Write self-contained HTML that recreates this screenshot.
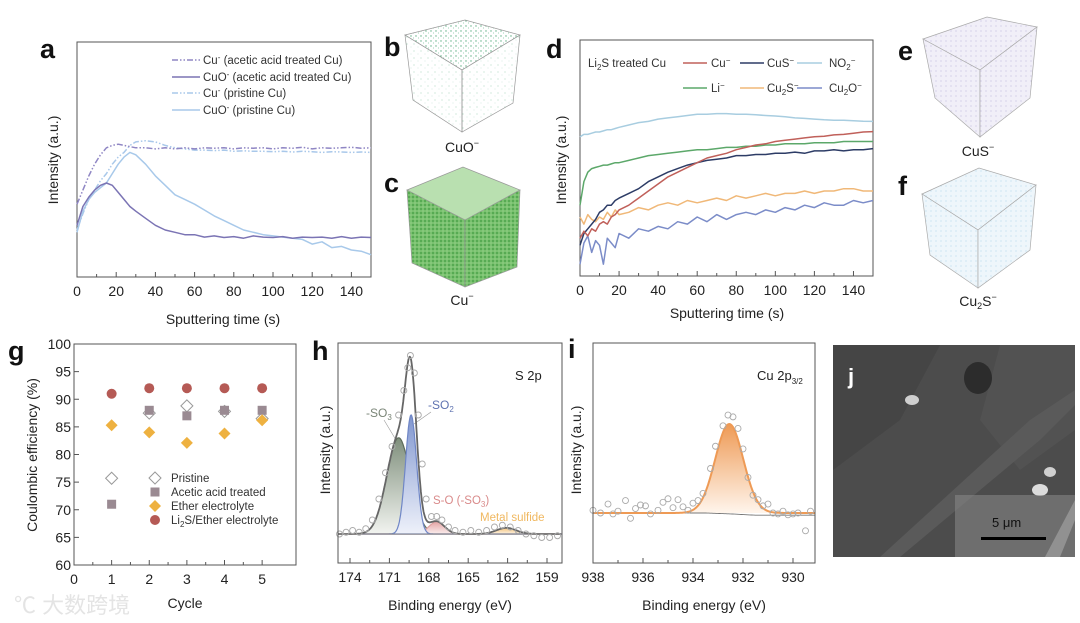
<!DOCTYPE html>
<html><head><meta charset="utf-8">
<style>
html,body{margin:0;padding:0;background:#fff;}
svg{display:block;font-family:"Liberation Sans","Noto Sans CJK SC",sans-serif;}
.tk{font-size:14px;fill:#222;}
.al{font-size:14px;fill:#222;}
.lg{font-size:11.5px;fill:#333;}
.pl{font-size:27px;font-weight:bold;fill:#111;}
</style></head>
<body>
<svg id="fig" width="1080" height="623" viewBox="0 0 1080 623">
<defs>
<pattern id="dotG" width="5" height="5" patternUnits="userSpaceOnUse"><circle cx="1" cy="1" r="0.7" fill="#5fae84"/><circle cx="3.5" cy="3" r="0.5" fill="#7cc49c"/></pattern>
<pattern id="dotGs" width="7" height="7" patternUnits="userSpaceOnUse"><circle cx="1" cy="2" r="0.5" fill="#8ccbaa"/><circle cx="5" cy="5" r="0.4" fill="#a3d6ba"/></pattern>
<pattern id="dotC" width="4" height="4" patternUnits="userSpaceOnUse"><rect width="4" height="4" fill="#79c16f"/><circle cx="1" cy="1" r="0.9" fill="#3f9a3f"/><circle cx="3" cy="3" r="0.6" fill="#a8dc98"/></pattern>
<pattern id="dotP" width="5" height="5" patternUnits="userSpaceOnUse"><rect width="5" height="5" fill="#f1eff8"/><circle cx="1" cy="1" r="0.6" fill="#c6c0e2"/></pattern>
<pattern id="dotB" width="5" height="5" patternUnits="userSpaceOnUse"><rect width="5" height="5" fill="#eef6fb"/><circle cx="1" cy="1" r="0.6" fill="#b9dcef"/></pattern>
<linearGradient id="gSO3" x1="0" y1="0" x2="0" y2="1"><stop offset="0" stop-color="#7f8f7c"/><stop offset="1" stop-color="#f2f4f0"/></linearGradient>
<linearGradient id="gSO2" x1="0" y1="0" x2="0" y2="1"><stop offset="0" stop-color="#8096cf"/><stop offset="1" stop-color="#eef1fa"/></linearGradient>
<linearGradient id="gSO" x1="0" y1="0" x2="0" y2="1"><stop offset="0" stop-color="#e4a5a5"/><stop offset="1" stop-color="#fbeeee"/></linearGradient>
<linearGradient id="gMS" x1="0" y1="0" x2="0" y2="1"><stop offset="0" stop-color="#f3c27a"/><stop offset="1" stop-color="#fdf3e4"/></linearGradient>
<linearGradient id="gCu" x1="0" y1="0" x2="0" y2="1"><stop offset="0" stop-color="#ee9a55"/><stop offset="1" stop-color="#fff5ec"/></linearGradient>
</defs>

<!-- panel letters -->
<text class="pl" x="40" y="58">a</text>
<text class="pl" x="384" y="56">b</text>
<text class="pl" x="384" y="192">c</text>
<text class="pl" x="546" y="58">d</text>
<text class="pl" x="898" y="60">e</text>
<text class="pl" x="898" y="195">f</text>
<text class="pl" x="8" y="360">g</text>
<text class="pl" x="312" y="360">h</text>
<text class="pl" x="568" y="358">i</text>

<!-- cubes -->
<g>
<polygon points="405,35 465,20 520,35 462,70" fill="url(#dotG)" stroke="#999" stroke-width="0.7"/>
<polygon points="405,35 462,70 462,132 413,100" fill="url(#dotGs)" stroke="#999" stroke-width="0.7"/>
<polygon points="462,70 520,35 513,103 462,132" fill="url(#dotGs)" stroke="#999" stroke-width="0.7"/>
</g>
<text x="462" y="152" text-anchor="middle" class="tk">CuO<tspan font-size="9" dy="-6">−</tspan></text>
<g>
<polygon points="407,190 463,167 520,190 465,220" fill="#b9e0b0" stroke="#999" stroke-width="0.7"/>
<polygon points="407,190 465,220 465,287 412,263" fill="url(#dotC)" stroke="#999" stroke-width="0.7"/>
<polygon points="465,220 520,190 517,267 465,287" fill="url(#dotC)" stroke="#999" stroke-width="0.7"/>
</g>
<text x="462" y="305" text-anchor="middle" class="tk">Cu<tspan font-size="9" dy="-6">−</tspan></text>
<g>
<polygon points="923,39 987,17 1037,27 980,70" fill="url(#dotP)" stroke="#aaa" stroke-width="0.7"/>
<polygon points="923,39 980,70 980,137 935,98" fill="url(#dotP)" stroke="#aaa" stroke-width="0.7"/>
<polygon points="980,70 1037,27 1030,98 980,137" fill="url(#dotP)" stroke="#aaa" stroke-width="0.7"/>
</g>
<text x="978" y="156" text-anchor="middle" class="tk">CuS<tspan font-size="9" dy="-6">−</tspan></text>
<g>
<polygon points="922,194 979,168 1036,185 978,230" fill="url(#dotB)" stroke="#aaa" stroke-width="0.7"/>
<polygon points="922,194 978,230 978,288 930,255" fill="url(#dotB)" stroke="#aaa" stroke-width="0.7"/>
<polygon points="978,230 1036,185 1030,250 978,288" fill="url(#dotB)" stroke="#aaa" stroke-width="0.7"/>
</g>
<text x="978" y="306" text-anchor="middle" class="tk">Cu<tspan font-size="9" dy="3">2</tspan><tspan dy="-3">S</tspan><tspan font-size="9" dy="-6">−</tspan></text>

<!-- axis titles -->
<text class="al" x="223" y="324" text-anchor="middle">Sputtering time (s)</text>
<text class="al" transform="translate(58,160) rotate(-90)" text-anchor="middle">Intensity (a.u.)</text>
<text class="al" x="727" y="318" text-anchor="middle">Sputtering time (s)</text>
<text class="al" transform="translate(566,160) rotate(-90)" text-anchor="middle">Intensity (a.u.)</text>
<text class="al" transform="translate(37,455) rotate(-90)" text-anchor="middle">Coulombic efficiency (%)</text>
<text class="al" x="185" y="608" text-anchor="middle">Cycle</text>
<text class="al" x="450" y="610" text-anchor="middle">Binding energy (eV)</text>
<text class="al" transform="translate(330,450) rotate(-90)" text-anchor="middle">Intensity (a.u.)</text>
<text class="al" x="704" y="610" text-anchor="middle">Binding energy (eV)</text>
<text class="al" transform="translate(581,450) rotate(-90)" text-anchor="middle">Intensity (a.u.)</text>

<!-- legend a -->
<g>
<line x1="172" y1="60" x2="200" y2="60" stroke="#8f86c4" stroke-width="1.5" stroke-dasharray="6,2,1.5,2,1.5,2"/>
<text class="lg" x="203" y="64">Cu<tspan font-size="8" dy="-4">-</tspan><tspan dy="4"> (acetic acid treated Cu)</tspan></text>
<line x1="172" y1="77" x2="200" y2="77" stroke="#7b74b4" stroke-width="1.5"/>
<text class="lg" x="203" y="81">CuO<tspan font-size="8" dy="-4">-</tspan><tspan dy="4"> (acetic acid treated Cu)</tspan></text>
<line x1="172" y1="93" x2="200" y2="93" stroke="#a9c8ea" stroke-width="1.5" stroke-dasharray="6,2,1.5,2,1.5,2"/>
<text class="lg" x="203" y="97">Cu<tspan font-size="8" dy="-4">-</tspan><tspan dy="4"> (pristine Cu)</tspan></text>
<line x1="172" y1="110" x2="200" y2="110" stroke="#a8c9ea" stroke-width="1.5"/>
<text class="lg" x="203" y="114">CuO<tspan font-size="8" dy="-4">-</tspan><tspan dy="4"> (pristine Cu)</tspan></text>
</g>
<!-- legend d -->
<g>
<text class="lg" x="588" y="67">Li<tspan font-size="8" dy="3">2</tspan><tspan dy="-3">S treated Cu</tspan></text>
<line x1="683" y1="63" x2="707" y2="63" stroke="#c0605a" stroke-width="1.5"/><text class="lg" x="711" y="67">Cu<tspan font-size="8" dy="-4">−</tspan></text>
<line x1="740" y1="63" x2="764" y2="63" stroke="#2d3c66" stroke-width="1.5"/><text class="lg" x="767" y="67">CuS<tspan font-size="8" dy="-4">−</tspan></text>
<line x1="797" y1="63" x2="822" y2="63" stroke="#a8cde0" stroke-width="1.5"/><text class="lg" x="829" y="67">NO<tspan font-size="8" dy="3">2</tspan><tspan font-size="8" dy="-7">−</tspan></text>
<line x1="683" y1="88" x2="707" y2="88" stroke="#5ca86a" stroke-width="1.5"/><text class="lg" x="711" y="92">Li<tspan font-size="8" dy="-4">−</tspan></text>
<line x1="740" y1="88" x2="764" y2="88" stroke="#f0b878" stroke-width="1.5"/><text class="lg" x="767" y="92">Cu<tspan font-size="8" dy="3">2</tspan><tspan dy="-3">S</tspan><tspan font-size="8" dy="-4">−</tspan></text>
<line x1="797" y1="88" x2="822" y2="88" stroke="#7b8cc8" stroke-width="1.5"/><text class="lg" x="829" y="92">Cu<tspan font-size="8" dy="3">2</tspan><tspan dy="-3">O</tspan><tspan font-size="8" dy="-4">−</tspan></text>
</g>
<!-- legend g -->
<g>
<text class="lg" x="171" y="482" font-size="12">Pristine</text>
<text class="lg" x="171" y="496" font-size="12">Acetic acid treated</text>
<text class="lg" x="171" y="510" font-size="12">Ether electrolyte</text>
<text class="lg" x="171" y="524" font-size="12">Li<tspan font-size="8" dy="3">2</tspan><tspan dy="-3">S/Ether electrolyte</tspan></text>
</g>
<!-- h annotations -->
<text x="515" y="380" font-size="13" fill="#222">S 2p</text>
<text x="366" y="417" font-size="12" fill="#7a8577">-SO<tspan font-size="8" dy="3">3</tspan></text>
<text x="428" y="409" font-size="12" fill="#5e72b0">-SO<tspan font-size="8" dy="3">2</tspan></text>
<line x1="384" y1="420" x2="396" y2="440" stroke="#999" stroke-width="0.6"/>
<line x1="431" y1="412" x2="414" y2="424" stroke="#999" stroke-width="0.6"/>
<text x="433" y="504" font-size="11.5" fill="#d98a8a">S-O (-SO<tspan font-size="8" dy="3">3</tspan><tspan dy="-3">)</tspan></text>
<text x="480" y="521" font-size="11.5" fill="#f0b860">Metal sulfide</text>
<text x="757" y="380" font-size="13" fill="#222">Cu 2p<tspan font-size="8" dy="4">3/2</tspan></text>

<!-- SEM image j -->
<g>
<rect x="833" y="345" width="242" height="212" fill="#4c4c4c"/>
<path d="M833,345 L940,345 L900,420 L833,470Z" fill="#454545"/>
<path d="M1000,345 L1075,345 L1075,430 L1020,470 L980,420Z" fill="#525252"/>
<path d="M880,557 L1030,420 L1075,390 L1075,405 L1040,440 L900,557Z" fill="#5a5a5a"/>
<path d="M1045,557 L1075,500 L1075,520 L1060,557Z" fill="#9a9a9a"/>
<ellipse cx="978" cy="378" rx="14" ry="16" fill="#2c2c2c"/>
<ellipse cx="912" cy="400" rx="7" ry="5" fill="#cfcfcf"/>
<ellipse cx="1040" cy="490" rx="8" ry="6" fill="#dcdcdc"/>
<ellipse cx="1050" cy="472" rx="6" ry="5" fill="#d0d0d0"/>
<rect x="955" y="495" width="120" height="62" fill="#8a8a8a" opacity="0.55"/>
<text x="848" y="384" font-size="22" font-weight="bold" fill="#fff">j</text>
<text x="992" y="527" font-size="13" fill="#111">5 μm</text>
<rect x="981" y="537" width="65" height="3" fill="#000"/>
</g>

<!-- watermark -->
<text x="14" y="613" font-size="22" fill="#e4e4e4">℃ 大数跨境</text>

<g id="plots"></g>
</svg>

<script>
// ===== Panel a data =====
const aTimes = [0,3,6,9,12,15,18,21,24,27,30,35,40,45,50,55,60,65,70,75,80,85,90,95,100,105,110,115,120,125,130,135,140,145,150];
const aCuAcetic = [0.31,0.37,0.43,0.48,0.52,0.55,0.56,0.565,0.56,0.555,0.55,0.55,0.545,0.55,0.545,0.55,0.545,0.55,0.548,0.55,0.545,0.55,0.548,0.55,0.545,0.55,0.548,0.552,0.545,0.55,0.548,0.55,0.552,0.548,0.55];
const aCuOAcetic = [0.22,0.30,0.34,0.37,0.39,0.40,0.39,0.36,0.33,0.30,0.28,0.25,0.22,0.20,0.19,0.18,0.18,0.17,0.175,0.168,0.172,0.165,0.175,0.17,0.168,0.172,0.165,0.17,0.168,0.17,0.165,0.172,0.165,0.17,0.168];
const aCuPristine = [0.20,0.27,0.33,0.37,0.41,0.44,0.48,0.51,0.53,0.56,0.575,0.58,0.575,0.56,0.55,0.545,0.54,0.54,0.538,0.54,0.535,0.537,0.535,0.535,0.533,0.535,0.532,0.535,0.533,0.53,0.533,0.532,0.53,0.532,0.53];
const aCuOPristine = [0.19,0.28,0.33,0.36,0.38,0.40,0.44,0.48,0.51,0.53,0.52,0.48,0.43,0.39,0.35,0.33,0.31,0.285,0.26,0.24,0.22,0.20,0.19,0.18,0.175,0.17,0.165,0.16,0.14,0.15,0.125,0.13,0.115,0.11,0.095];
const timeTicks = [0,20,40,60,80,100,120,140];
// ===== Panel d data =====
const dTimes = [0,2,4,6,8,10,12,14,16,18,20,25,30,35,40,45,50,55,60,65,70,75,80,85,90,95,100,105,110,115,120,125,130,135,140,145,150];
const dNO2 = [0.59,0.60,0.60,0.605,0.61,0.61,0.615,0.62,0.62,0.625,0.63,0.64,0.65,0.655,0.665,0.67,0.675,0.68,0.685,0.685,0.688,0.688,0.685,0.685,0.683,0.68,0.678,0.675,0.67,0.668,0.665,0.662,0.66,0.66,0.658,0.656,0.655];
const dCu = [0.16,0.19,0.17,0.20,0.19,0.22,0.23,0.22,0.25,0.26,0.28,0.30,0.33,0.36,0.39,0.42,0.44,0.46,0.48,0.50,0.51,0.52,0.535,0.545,0.555,0.56,0.57,0.575,0.58,0.585,0.59,0.592,0.598,0.60,0.605,0.61,0.612];
const dCuS = [0.13,0.18,0.20,0.22,0.24,0.27,0.28,0.30,0.30,0.32,0.33,0.35,0.37,0.40,0.42,0.44,0.455,0.47,0.48,0.49,0.495,0.50,0.51,0.51,0.515,0.515,0.52,0.52,0.525,0.52,0.53,0.53,0.535,0.53,0.535,0.535,0.54];
const dLi = [0.30,0.40,0.44,0.455,0.46,0.465,0.47,0.47,0.475,0.48,0.48,0.49,0.50,0.51,0.515,0.52,0.525,0.53,0.535,0.535,0.54,0.545,0.545,0.55,0.55,0.555,0.555,0.56,0.56,0.56,0.565,0.565,0.565,0.57,0.57,0.57,0.57];
const dCu2S = [0.25,0.22,0.26,0.24,0.23,0.25,0.24,0.27,0.25,0.28,0.26,0.27,0.29,0.28,0.30,0.31,0.30,0.32,0.31,0.32,0.33,0.32,0.34,0.33,0.34,0.35,0.34,0.35,0.35,0.36,0.35,0.36,0.36,0.37,0.37,0.36,0.36];
const dCu2O = [0.05,0.14,0.17,0.10,0.15,0.13,0.05,0.16,0.14,0.12,0.18,0.16,0.20,0.19,0.21,0.20,0.23,0.22,0.25,0.23,0.26,0.24,0.26,0.27,0.26,0.28,0.27,0.29,0.28,0.30,0.29,0.31,0.30,0.30,0.32,0.31,0.32];
// ===== Panel g data =====
const gCycles = [1,2,3,4,5];
const gPristine = [75.7,87.5,88.8,87.8,86.5];
const gAcetic = [71,88,87,88,88];
const gEther = [85.3,84,82.1,83.8,86.2];
const gLi2S = [91,92,92,92,92];
const gYTicks = [60,65,70,75,80,85,90,95,100];
const gXTicks = [0,1,2,3,4,5];
// ===== Panel h data =====
const hCenters = [170.3,169.35,167.4,162.1];
const hAmps = [0.55,0.68,0.07,0.035];
const hSigmas = [0.9,0.42,0.6,0.75];
const hPointE = [174.8,174.3,173.8,173.3,172.8,172.3,171.8,171.3,170.8,170.3,169.9,169.6,169.4,169.1,168.8,168.5,168.2,167.8,167.4,167.0,166.5,166.0,165.4,164.8,164.2,163.6,163.0,162.4,161.8,161.2,160.6,160.0,159.4,158.8,158.2];
const hPointI = [0.0,0.01,0.02,0.01,0.03,0.08,0.2,0.35,0.5,0.68,0.82,0.95,1.02,0.92,0.68,0.4,0.2,0.1,0.1,0.08,0.04,0.02,0.01,0.02,0.01,0.02,0.04,0.05,0.04,0.02,0.0,-0.01,-0.02,-0.02,-0.01];
const hTicks = [174,171,168,165,162,159];
// ===== Panel i data =====
const iCenter = [932.55];
const iAmp = [1.0];
const iSigma = [0.56];
const iPointE = [938,937.7,937.4,937.2,937,936.7,936.5,936.3,936.1,935.9,935.7,935.4,935.2,935,934.8,934.6,934.4,934.2,934,933.8,933.6,933.3,933.1,932.8,932.6,932.4,932.2,932,931.8,931.6,931.4,931.2,931,930.8,930.6,930.4,930.2,930,929.8,929.5,929.3];
const iPointI = [0.03,0.0,0.1,-0.01,0.02,0.14,-0.06,0.05,0.09,0.08,-0.01,0.03,0.12,0.16,0.06,0.15,0.07,0.03,0.11,0.14,0.22,0.5,0.75,0.98,1.1,1.08,0.95,0.72,0.4,0.2,0.15,0.08,0.1,0.0,-0.01,0.02,-0.02,-0.01,0.0,-0.2,0.02];
const iBaseE = [938,933.5,932.5,931.5,929.1];
const iBaseI = [0,0,-0.01,-0.025,-0.025];
const iTicks = [938,936,934,932,930];

const NS = 'http://www.w3.org/2000/svg';
const root = document.getElementById('plots');
function mk(tag, attrs, parent) {
  const e = document.createElementNS(NS, tag);
  for (const k in attrs) e.setAttribute(k, attrs[k]);
  (parent || root).appendChild(e);
  return e;
}
function lin(d0, d1, r0, r1) { return v => r0 + (v - d0) * (r1 - r0) / (d1 - d0); }
function gauss(x, c, a, s) { return a * Math.exp(-((x - c) * (x - c)) / (2 * s * s)); }

function frame(name, x0, y0, x1, y1) {
  const r = mk('rect', {x:x0, y:y0, width:x1-x0, height:y1-y0, fill:'none', stroke:'#555', 'stroke-width':1});
  
  
}
function xTicksDraw(name, ticks, sx, yb, labelFn, minorStep, dmin, dmax) {
  ticks.forEach(t => {
    const l = mk('line', {x1:sx(t), x2:sx(t), y1:yb, y2:yb-5, stroke:'#555'});
    
    
    const tx = mk('text', {x:sx(t), y:yb+19, 'text-anchor':'middle', class:'tk'});
    tx.textContent = labelFn(t);
    
    
  });
  if (minorStep) {
    for (let k = 0; k < ticks.length - 1 || k < 1; k++) {
      const m = (ticks[k] + ticks[k+1]) / 2;
      if (isNaN(m)) break;
      const l = mk('line', {x1:sx(m), x2:sx(m), y1:yb, y2:yb-3, stroke:'#555'});
      
      
    }
  }
}
function polyline(name, xs, ys, sx, sy, color, dash, width) {
  const pts = xs.map((x, i) => sx(x).toFixed(1) + ',' + sy(ys[i]).toFixed(1)).join(' ');
  const p = mk('polyline', {points:pts, fill:'none', stroke:color, 'stroke-width':width || 1.5, 'stroke-linejoin':'round'});
  if (dash) p.setAttribute('stroke-dasharray', dash);
  
  
  return p;
}

// ---------- Panel a ----------
(function(){
  const sx = lin(0, 150, 77, 371), sy = lin(0, 1, 277, 42);
  frame('a', 77, 42, 371, 277);
  xTicksDraw('a', timeTicks, sx, 277, t => t, true);
  const dd = '6,2,1.5,2,1.5,2';
  polyline('a-series-cuo-pristine', aTimes, aCuOPristine, sx, sy, '#a8c9ea', null);
  polyline('a-series-cu-pristine', aTimes, aCuPristine, sx, sy, '#a9c8ea', dd);
  polyline('a-series-cuo-acetic', aTimes, aCuOAcetic, sx, sy, '#7b74b4', null);
  polyline('a-series-cu-acetic', aTimes, aCuAcetic, sx, sy, '#8f86c4', dd);
})();

// ---------- Panel d ----------
(function(){
  const sx = lin(0, 150, 580, 873), sy = lin(0, 1, 276, 40);
  frame('d', 580, 40, 873, 276);
  xTicksDraw('d', timeTicks, sx, 276, t => t, true);
  polyline('d-series-no2', dTimes, dNO2, sx, sy, '#a8cde0');
  polyline('d-series-li', dTimes, dLi, sx, sy, '#5ca86a');
  polyline('d-series-cu2s', dTimes, dCu2S, sx, sy, '#f0b878');
  polyline('d-series-cu2o', dTimes, dCu2O, sx, sy, '#7b8cc8');
  polyline('d-series-cus', dTimes, dCuS, sx, sy, '#2d3c66');
  polyline('d-series-cu', dTimes, dCu, sx, sy, '#c0605a');
})();

// ---------- Panel g ----------
(function(){
  const sx = lin(0, 5.9, 74, 296), sy = lin(60, 100, 565, 344);
  frame('g', 74, 344, 296, 565);
  xTicksDraw('g', gXTicks, sx, 565, t => t, true);
  gYTicks.forEach(t => {
    const l = mk('line', {x1:74, x2:79, y1:sy(t), y2:sy(t), stroke:'#555'});
    
    
    const tx = mk('text', {x:71, y:sy(t)+5, 'text-anchor':'end', class:'tk'});
    tx.textContent = t;
    
    
  });
  function diamond(cx, cy, s, fill, stroke) {
    return mk('polygon', {points:`${cx},${cy-s} ${cx+s},${cy} ${cx},${cy+s} ${cx-s},${cy}`, fill:fill, stroke:stroke, 'stroke-width':1});
  }
  gCycles.forEach((c, i) => {
    const p1 = diamond(sx(c), sy(gPristine[i]), 6, '#fff', '#999');
    
    
    const p2 = mk('rect', {x:sx(c)-4.5, y:sy(gAcetic[i])-4.5, width:9, height:9, fill:'#9a8a92'});
    
    
    const p3 = diamond(sx(c), sy(gEther[i]), 6, '#eeb140', 'none');
    
    
    const p4 = mk('circle', {cx:sx(c), cy:sy(gLi2S[i]), r:5, fill:'#b55a55'});
    
    
  });
  const m1 = diamond(155, 478, 6, '#fff', '#999');
  
  
  const m2 = mk('rect', {x:150.5, y:487.5, width:9, height:9, fill:'#9a8a92'});
  
  
  const m3 = diamond(155, 506, 6, '#eeb140', 'none');
  
  
  const m4 = mk('circle', {cx:155, cy:520, r:5, fill:'#b55a55'});
  
  
})();

// ---------- Panel h ----------
(function(){
  const sx = lin(174, 159, 350, 547), sy = lin(0, 1, 534, 359);
  const e0 = 174.9, e1 = 157.9;
  const es = [];
  for (let e = e0; e >= e1; e -= 0.05) es.push(e);
  const fills = ['url(#gSO3)','url(#gSO2)','url(#gSO)','url(#gMS)'];
  const strokes = ['#5d6b5a','#6f86c6','#e0a0a0','#f0c080'];
  const names = ['so3','so2','so','metal-sulfide'];
  [0,2,3,1].forEach(k => {
    const ys = es.map(e => gauss(e, hCenters[k], hAmps[k], hSigmas[k]));
    const pts = es.map((e, i) => sx(e).toFixed(1) + ',' + sy(ys[i]).toFixed(1));
    const a = mk('polygon', {points: sx(e0)+','+sy(0)+' '+pts.join(' ')+' '+sx(e1)+','+sy(0), fill:fills[k], stroke:strokes[k], 'stroke-width':1.2});
    
    
  });
  const env = es.map(e => hCenters.reduce((s, c, k) => s + gauss(e, c, hAmps[k], hSigmas[k]), 0));
  polyline('h-envelope', es, env, sx, sy, '#666', null, 1.8);
  polyline('h-baseline', [e0, e1], [0, 0], sx, sy, '#888', null, 0.8);
  hPointE.forEach((e, i) => {
    const c = mk('circle', {cx:sx(e), cy:sy(hPointI[i]), r:3, fill:'none', stroke:'#aaa', 'stroke-width':0.9});
    
    
  });
  frame('h', 338, 343, 562, 563);
  xTicksDraw('h', hTicks, sx, 563, t => t, true);
})();

// ---------- Panel i ----------
(function(){
  const sx = lin(938, 930, 593, 793), sy = lin(0, 1, 513, 424);
  const e0 = 938, e1 = 929.1;
  const es = [];
  for (let e = e0; e >= e1; e -= 0.04) es.push(e);
  function base(e) {
    for (let k = 0; k < iBaseE.length - 1; k++) {
      if (e <= iBaseE[k] && e >= iBaseE[k+1]) {
        const f = (iBaseE[k] - e) / (iBaseE[k] - iBaseE[k+1]);
        return iBaseI[k] + f * (iBaseI[k+1] - iBaseI[k]);
      }
    }
    return iBaseI[iBaseI.length-1];
  }
  const ys = es.map(e => gauss(e, iCenter[0], iAmp[0], iSigma[0]));
  const pts = es.map((e, i) => sx(e).toFixed(1) + ',' + sy(ys[i]).toFixed(1));
  const a = mk('polygon', {points: sx(e0)+','+sy(0)+' '+pts.join(' ')+' '+sx(e1)+','+sy(0), fill:'url(#gCu)', stroke:'none'});
  
  
  polyline('i-baseline', es, es.map(base), sx, sy, '#777', null, 0.9);
  polyline('i-fit-curve', es, ys, sx, sy, '#ee9a55', null, 2);
  iPointE.forEach((e, i) => {
    const c = mk('circle', {cx:sx(e), cy:sy(iPointI[i]), r:3, fill:'none', stroke:'#aaa', 'stroke-width':0.9});
    
    
  });
  frame('i', 593, 343, 815, 563);
  xTicksDraw('i', iTicks, sx, 563, t => t, true);
})();
</script>
</body></html>
